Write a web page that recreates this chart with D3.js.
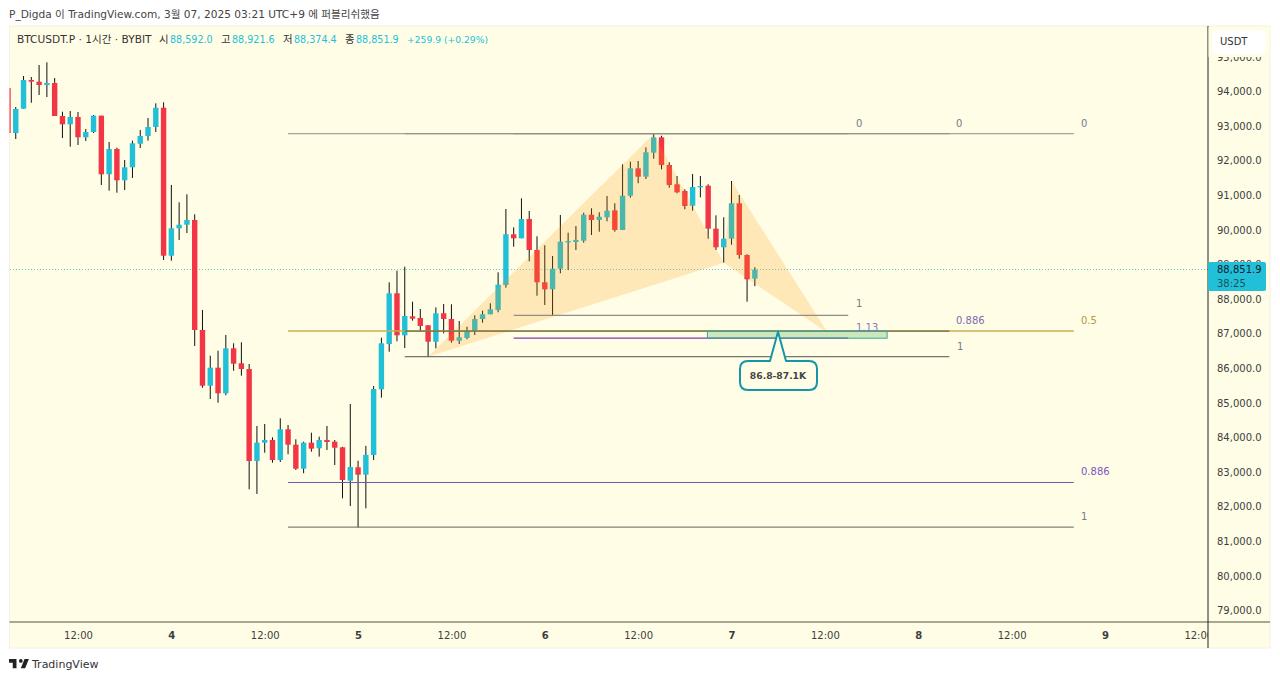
<!DOCTYPE html>
<html>
<head>
<meta charset="utf-8">
<script src="https://cdnjs.cloudflare.com/ajax/libs/d3/7.9.0/d3.min.js"></script>
<style>
html,body{margin:0;padding:0;background:#fff;overflow:hidden}
svg{display:block}
text{font-family:"DejaVu Sans","Noto Sans CJK KR",sans-serif;font-size:10px}
</style>
</head>
<body>
<script>
const firstIndex = -9;
const opens = [94101,92800,93503,94332,94283,94188,94246,93292,93052,93263,92676,92829,93301,91607,92338,91434,91809,92491,92714,92974,93532,
89254,90046,90150,90286,87107,85497,86018,85278,86578,86145,85980,83321,83850,83928,83350,84237,83792,83098,83850,83688,83928,83879,83717,82752,83139,82925,83494,85393,86703,88168,86954,
87503,87454,87243,86769,87590,87425,86798,86876,87078,87425,87561,87685,88408,89873,89757,90315,89419,88486,88283,88879,89642,89650,89688,90439,90286,90364,90566,89997,90988,91780,91537,92231,92676,91876,91318,91124,90699,91231,91277,90035,89497,89746,90769,89275,88592];
const highs = [94101,93552,94448,94419,94766,94844,94390,93416,93436,93407,92916,93321,93301,92540,92376,92020,92578,92887,93234,93659,93688,
91298,90798,91029,90451,87685,86364,86509,86963,86723,86752,86124,84333,84391,84006,84555,84362,83948,83879,84139,84024,84333,83928,83730,84968,83330,83759,85489,86886,88486,88821,88936,
87925,87714,87252,87763,87858,87850,87367,87202,87532,87665,87879,88775,90604,90075,90913,90546,89815,89555,89246,90431,89919,90113,90497,90624,90509,90980,90769,91896,91971,91991,92387,92772,92722,91954,91558,91173,91616,91558,91318,90422,90364,91413,91009,89295,88921.6];
const lows = [92800,92627,93503,93676,93899,93841,93292,92656,92405,92454,92569,92800,91298,91133,91075,91153,91500,92367,92578,92829,89130,
89110,89708,89910,86645,85440,85113,85006,85220,85931,85786,82503,82368,83561,83272,83292,83515,83061,82966,83590,83446,83639,83206,82243,82021,81405,81954,83350,85151,86480,86781,86587,
87376,87058,86335,86578,87012,86740,86703,86838,86963,87318,87561,87619,88330,89514,89757,89092,88098,87830,87541,88746,88841,89419,89630,89853,89948,90249,89948,89997,90931,91347,91471,92058,91751,91220,91058,90595,90555,90942,89746,89419,89052,89572,89168,87925,88374.4];
const closes = [92800,93494,94332,94283,94188,94246,93292,93052,93263,92676,92829,93301,91607,92338,91434,91809,92503,92714,92974,93532,89254,
90046,90150,90286,87107,85497,86018,85278,86578,86133,85980,83321,83850,83928,83350,84237,83792,83098,83850,83676,83928,83870,83705,82772,83148,82925,83499,85402,86723,88168,86954,87512,
87434,87223,86769,87590,87425,86798,86896,87070,87425,87561,87705,88416,89873,89757,90315,89419,88486,88283,88879,89659,89679,89708,90439,90286,90381,90555,89997,90988,91780,91537,92243,92676,91876,91298,91087,90691,91240,91269,90035,89497,89746,90769,89275,88572,88851.9];

const priceTicks = [79000,80000,81000,82000,83000,84000,85000,86000,87000,88000,89000,90000,91000,92000,93000,94000,95000];
const timeTicks = [0,12,24,36,48,60,72,84,96,108,120,132,144];
const timeLabels = ["12:00","4","12:00","5","12:00","6","12:00","7","12:00","8","12:00","9","12:00"];

// harmonic pattern pivots: [candle index, price]
const patternLegOne = [[45,86335],[74,92772],[83,89052]];
const patternLegTwo = [[83,89052],[84,91413],[96.4,87020]];

// fib levels: price, start index, end index, colour key
const levelPrices = [92780,92780,92780,87076,87076,87530,86870,86335,82700,81410];
const levelStarts = [27,42,56,27,42,56,56,42,27,27];
const levelEnds = [128,112,99,128,112,99,99,112,128,128];
const levelColors = ["#8f8f88","#8f8f88","#8f8f88","#c4b050","#55553c","#8f8f88","#7a3fb0","#55554f","#7653b8","#66665f"];
const levelWidths = [1,1,1,1.4,1,1.2,1.2,1,1,1];
const levelLabels = ["0","0","0","0.5","0.886","1","1.13","1","0.886","1"];
const labelColors = ["#787b86","#787b86","#787b86","#b39a3e","#7e6bb0","#787b86","#8f75bd","#787b86","#7e57c2","#787b86"];

const zoneTop = 87070, zoneBottom = 86870, zoneStart = 80.9, zoneEnd = 104;
const lastPrice = 88851.9;

const W = 1280, H = 681;
const paneL = 9.5, paneR = 1208, paneT = 26, paneB = 622, stripR = 1270, stripB = 648;
const x = d3.scaleLinear().domain([0,144]).range([78,1198.3]);
const y = d3.scaleLinear().domain([94000,79000]).range([91.5,610.5]);
const upColor = "#22c0d8", downColor = "#f23645", bg = "#fffde6";

const svg = d3.select("body").append("svg").attr("width",W).attr("height",H);
svg.append("rect").attr("x",paneL).attr("y",paneT).attr("width",stripR-paneL).attr("height",stripB-paneT)
  .attr("fill",bg).attr("stroke","#f4f2e2");

const defs = svg.append("defs");
defs.append("clipPath").attr("id","pane").append("rect")
  .attr("x",paneL).attr("y",paneT).attr("width",paneR-paneL).attr("height",paneB-paneT);
defs.append("clipPath").attr("id","timeClip").append("rect")
  .attr("x",paneL).attr("y",paneB).attr("width",paneR-paneL).attr("height",stripB-paneB);

// title
svg.append("text").attr("x",9).attr("y",18).attr("fill","#444").style("font-size","10.6px")
  .text("P_Digda 이 TradingView.com, 3월 07, 2025 03:21 UTC+9 에 퍼블리쉬했음");

const plot = svg.append("g").attr("clip-path","url(#pane)");

// last price dotted line
plot.append("line").attr("x1",paneL).attr("x2",paneR).attr("y1",y(lastPrice)).attr("y2",y(lastPrice))
  .attr("stroke",upColor).attr("stroke-opacity",.75).attr("stroke-dasharray","1 2").attr("shape-rendering","crispEdges");

// candles
const candles = d3.range(opens.length).map(i=>({i:firstIndex+i,o:opens[i],h:highs[i],l:lows[i],c:closes[i]}));
const bw = 5.4;
plot.selectAll(".wick").data(candles).join("line").attr("class","wick")
  .attr("x1",d=>x(d.i)).attr("x2",d=>x(d.i)).attr("y1",d=>y(d.h)).attr("y2",d=>y(d.l))
  .attr("stroke","#111");
plot.selectAll(".body").data(candles).join("rect").attr("class","body")
  .attr("x",d=>x(d.i)-bw/2).attr("width",bw)
  .attr("y",d=>y(Math.max(d.o,d.c)))
  .attr("height",d=>Math.max(1.4,Math.abs(y(d.o)-y(d.c))))
  .attr("fill",d=>d.c>=d.o?upColor:downColor);

// pattern overlay
const area = d3.line().x(d=>x(d[0])).y(d=>y(d[1]));
[patternLegOne,patternLegTwo].forEach(p=>{
  plot.append("path").attr("d",area(p)+"Z").attr("fill","#ff9800").attr("fill-opacity",.2);
});

// levels
levelPrices.forEach((p,k)=>{
  plot.append("line").attr("x1",x(levelStarts[k])).attr("x2",x(levelEnds[k]))
    .attr("y1",y(p)).attr("y2",y(p)).attr("stroke",levelColors[k]).attr("stroke-width",levelWidths[k]);
});
// level labels
const labelX = [856,956,1081,1081,956,856,856,957,1081,1081];
const labelDy = [-7,-7,-7,-7,-7,-8,-7,-7,-7,-7];
levelLabels.forEach((t,k)=>{
  svg.append("text").attr("x",labelX[k]).attr("y",y(levelPrices[k])+labelDy[k])
    .attr("fill",labelColors[k]).text(t);
});

// zone box
plot.append("rect").attr("x",x(zoneStart)).attr("width",x(zoneEnd)-x(zoneStart))
  .attr("y",y(zoneTop)).attr("height",y(zoneBottom)-y(zoneTop))
  .attr("fill","#4caf50").attr("fill-opacity",.28).attr("stroke","#3aa6a0");

// callout
const cx = 778, tipY = y(zoneTop)+.5, boxTop = 361, boxBot = 390, boxL = 740, boxR = 817, rad = 8;
svg.append("path").attr("fill",bg).attr("stroke","#1496a6").attr("stroke-width",2).attr("stroke-linejoin","round")
  .attr("d",`M${boxL+rad},${boxTop}H${cx-8}L${cx},${tipY}L${cx+8},${boxTop}H${boxR-rad}Q${boxR},${boxTop} ${boxR},${boxTop+rad}V${boxBot-rad}Q${boxR},${boxBot} ${boxR-rad},${boxBot}H${boxL+rad}Q${boxL},${boxBot} ${boxL},${boxBot-rad}V${boxTop+rad}Q${boxL},${boxTop} ${boxL+rad},${boxTop}Z`);
svg.append("text").attr("x",cx).attr("y",379).attr("text-anchor","middle").attr("fill","#444")
  .style("font-size","9.2px").style("font-weight","bold").text("86.8-87.1K");

// header
const hdr = svg.append("g");
hdr.append("text").attr("x",17).attr("y",43).attr("fill","#333").style("font-size","10.6px").text("BTCUSDT.P · 1시간 · BYBIT");
const hdrKeys = ["시","고","저","종"], hdrVals = [opens[opens.length-1],highs[highs.length-1],lows[lows.length-1],closes[closes.length-1]];
const hdrX = [159,221,283,345];
hdrKeys.forEach((k,i)=>{
  hdr.append("text").attr("x",hdrX[i]).attr("y",43).attr("fill","#333").style("font-size","10.4px").text(k);
  hdr.append("text").attr("x",hdrX[i]+11).attr("y",43).attr("fill",upColor).style("font-size","9.6px").text(d3.format(",.1f")(hdrVals[i]));
});
hdr.append("text").attr("x",407).attr("y",43).attr("fill",upColor).style("font-size","9.2px").text("+259.9 (+0.29%)");

// price axis
const yAxis = d3.axisRight(y).tickValues(priceTicks).tickFormat(d3.format(",.1f")).tickSize(0).tickPadding(9);
const gy = svg.append("g").attr("transform",`translate(${paneR},0)`).call(yAxis);
gy.select(".domain").remove();
gy.selectAll("text").attr("fill","#3d3d3d").style("font-size","10px");

// time axis
const xAxis = d3.axisBottom(x).tickValues(timeTicks).tickFormat((d,i)=>timeLabels[i]).tickSize(0).tickPadding(10);
const gx = svg.append("g").attr("clip-path","url(#timeClip)").append("g").attr("transform",`translate(0,${paneB})`).call(xAxis);
gx.select(".domain").remove();
gx.selectAll("text").attr("fill","#3d3d3d").style("font-size","10px")
  .style("font-weight",(d,i)=>timeLabels[i].includes(":")?"normal":"bold");

// axis rules
svg.append("line").attr("x1",paneL).attr("x2",stripR).attr("y1",paneB).attr("y2",paneB).attr("stroke","#8b8b73").attr("stroke-width",1.4);
svg.append("line").attr("x1",paneR).attr("x2",paneR).attr("y1",paneT).attr("y2",stripB).attr("stroke","#222");

// USDT button with the strip hiding the top of the clipped tick above it
svg.append("rect").attr("x",paneR+.5).attr("y",paneT+1).attr("width",stripR-paneR-1).attr("height",30).attr("fill",bg);
svg.append("rect").attr("x",1212).attr("y",30).attr("width",54).attr("height",24).attr("rx",5).attr("fill","#fff");
svg.append("text").attr("x",1220).attr("y",45).attr("fill","#333").text("USDT");

// last price tag
svg.append("rect").attr("x",paneR).attr("y",262).attr("width",58).attr("height",29).attr("rx",2).attr("fill",upColor);
svg.append("text").attr("x",1217).attr("y",273).attr("fill","#123").text(d3.format(",.1f")(lastPrice));
svg.append("text").attr("x",1217).attr("y",287).attr("fill","#1d4f5c").text("38:25");

// brand
svg.append("path").attr("transform","translate(7.8,655.3) scale(.62)").attr("fill","#222")
  .attr("d","M14 6H2v6h6v9h6V6zm14 15h-7l6-15h7l-6 15zm-7-9a3 3 0 1 0 0-6 3 3 0 0 0 0 6z");
svg.append("text").attr("x",32).attr("y",668).attr("fill","#333").style("font-size","11px").text("TradingView");
</script>
</body>
</html>
